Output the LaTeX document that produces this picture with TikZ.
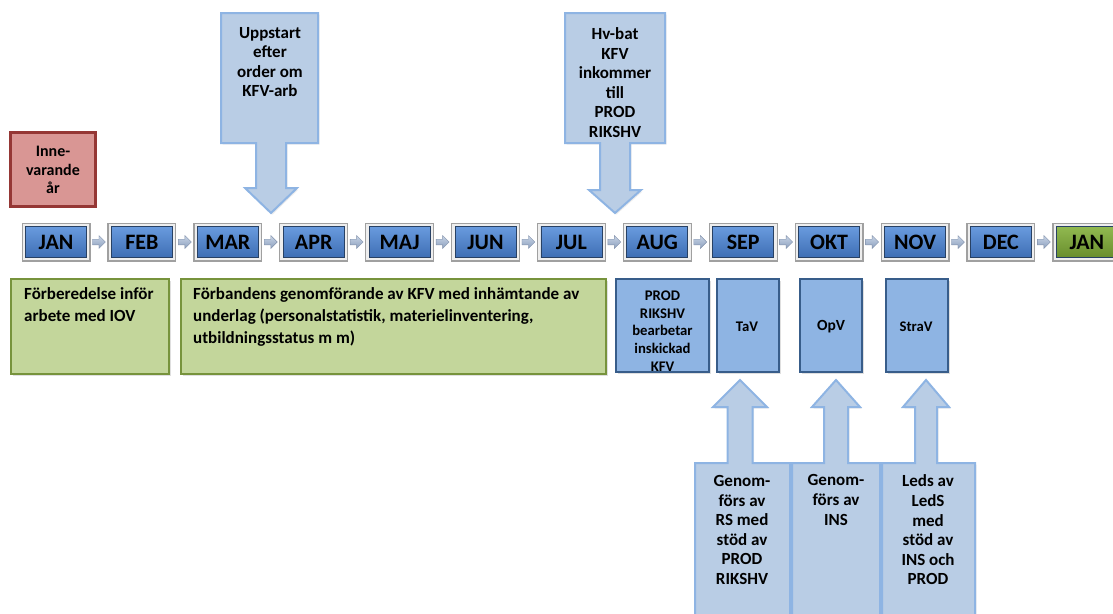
\documentclass[tikz,border=0pt]{standalone}
\usepackage{fontspec}
\setmainfont{Carlito}
\usetikzlibrary{calc,shadows}

\definecolor{monthtop}{RGB}{105,155,222}
\definecolor{monthbot}{RGB}{62,110,180}
\definecolor{monthline}{RGB}{40,65,100}
\definecolor{frameout}{RGB}{160,160,160}
\definecolor{framein}{RGB}{238,238,238}
\definecolor{greentop}{RGB}{145,185,80}
\definecolor{greenbot}{RGB}{105,142,45}
\definecolor{calloutfill}{RGB}{185,205,229}
\definecolor{calloutline}{RGB}{142,180,227}
\definecolor{notefill}{RGB}{195,214,155}
\definecolor{noteline}{RGB}{119,147,60}
\definecolor{stepfill}{RGB}{142,180,227}
\definecolor{stepline}{RGB}{56,93,138}
\definecolor{yearfill}{RGB}{217,150,148}
\definecolor{yearline}{RGB}{149,55,53}
\definecolor{linktop}{RGB}{200,212,230}
\definecolor{linkbot}{RGB}{140,160,190}
\definecolor{linkline}{RGB}{130,145,170}

\tikzset{
  monthbox/.style={rectangle, minimum width=61pt, minimum height=31pt, inner sep=0pt,
    drop shadow={opacity=0.25, shadow xshift=1pt, shadow yshift=-2pt},
    preaction={draw=frameout, line width=8pt},
    preaction={draw=framein, line width=5.6pt},
    top color=monthtop, bottom color=monthbot, draw=monthline, line width=0.8pt,
    font=\fontsize{22}{22}\selectfont\bfseries, text=black},
  nextmonth/.style={top color=greentop, bottom color=greenbot},
  link/.style={top color=linktop, bottom color=linkbot, draw=linkline, line width=0.4pt},
  callout/.style={fill=calloutfill, draw=calloutline, line width=2pt, line join=miter,
    drop shadow={opacity=0.15, shadow xshift=1.5pt, shadow yshift=-1.5pt}},
  notebox/.style={rectangle, fill=notefill, draw=noteline, line width=2.6pt, inner sep=0pt,
    drop shadow={opacity=0.25, shadow xshift=1.5pt, shadow yshift=-1.5pt}},
  stepbox/.style={rectangle, fill=stepfill, draw=stepline, line width=2.6pt, inner sep=0pt,
    drop shadow={opacity=0.25, shadow xshift=1.5pt, shadow yshift=-1.5pt}},
  yearbox/.style={rectangle, fill=yearfill, draw=yearline, line width=3pt, inner sep=0pt,
    drop shadow={opacity=0.25, shadow xshift=1.5pt, shadow yshift=-1.5pt}},
  boldtext/.style={inner sep=0pt, align=center, font=\fontsize{17}{19.6}\selectfont\bfseries},
  smalltext/.style={inner sep=0pt, align=center, font=\fontsize{14.7}{17.8}\selectfont\bfseries},
  plaintext/.style={inner sep=0pt, align=left, anchor=north west, font=\fontsize{17}{21.8}\selectfont\bfseries},
}

\begin{document}
\begin{tikzpicture}[x=1pt, y=-1pt]
\useasboundingbox (0,0) rectangle (1113,613);

% current year marker
\node[yearbox, minimum width=85pt, minimum height=74pt] (year) at (53,169.5) {};
\node[boldtext, font=\fontsize{16}{18.6}\selectfont\bfseries] (yeartext) at (53,170) {Inne-\\varande\\år};

% down callouts above the timeline
\path[callout] (221,13) -- (318,13) -- (318,143) -- (286,143) -- (286,188) -- (297,188)
  -- (271,213) -- (245,188) -- (256,188) -- (256,143) -- (221,143) -- cycle;
\node[boldtext] (start) at (270,62) {Uppstart\\efter\\order om\\KFV-arb};

\path[callout] (565,13) -- (665,13) -- (665,143) -- (630,143) -- (630,190) -- (641,190)
  -- (615,213) -- (589,190) -- (600,190) -- (600,143) -- (565,143) -- cycle;
\node[boldtext] (arrival) at (615,82.5) {Hv-bat\\KFV\\inkommer\\till\\PROD\\RIKSHV};

% timeline of months
\foreach \m [count=\i from 0] in {JAN,FEB,MAR,APR,MAJ,JUN,JUL,AUG,SEP,OKT,NOV,DEC}
  \node[monthbox] (m\i) at ({56+85.9*\i},242) {\m};
\node[monthbox, nextmonth] (m12) at ({56+85.9*12},242) {JAN};

\foreach \i [evaluate=\i as \j using int(\i+1)] in {0,...,11}
  \path[link] ($(m\i.east)!0.5!(m\j.west)$) ++(-6.5,-2.8) -- ++(6.5,0) -- ++(0,-3.7)
    -- ++(6.5,6.5) -- ++(-6.5,6.5) -- ++(0,-3.7) -- ++(-6.5,0) -- cycle;

% activity boxes below the timeline
\node[notebox, minimum width=158pt, minimum height=95pt] (prep) at (90,326.5) {};
\node[plaintext] (preptext) at (24,287.5) {Förberedelse inför\\arbete med IOV};

\node[notebox, minimum width=425pt, minimum height=95pt] (units) at (393.5,326.5) {};
\node[plaintext] (unitstext) at (193,287.5) {Förbandens genomförande av KFV med inhämtande av\\underlag (personalstatistik, materielinventering,\\utbildningsstatus m m)};

\node[stepbox, minimum width=93pt, minimum height=93pt] (proc) at (662.5,325.5) {};
\node[smalltext] (proctext) at (662.5,331) {PROD\\RIKSHV\\bearbetar\\inskickad\\KFV};

\node[stepbox, minimum width=62pt, minimum height=93pt] (tav) at (748,325.5) {};
\node[smalltext] (tavtext) at (747,327) {TaV};

\node[stepbox, minimum width=62pt, minimum height=93pt] (opv) at (831,325.5) {};
\node[boldtext, font=\fontsize{15.5}{15.5}\selectfont\bfseries] (opvtext) at (831,327) {OpV};

\node[stepbox, minimum width=62pt, minimum height=93pt] (strav) at (917,325.5) {};
\node[smalltext] (stravtext) at (916,327) {StraV};

% up callouts below the activity boxes
\path[callout] (695,625) -- (695,463) -- (727.5,463) -- (727.5,407) -- (713,407) -- (740,380)
  -- (767,407) -- (752.5,407) -- (752.5,463) -- (790,463) -- (790,625) -- cycle;
\node[boldtext] (rs) at (742,530) {Genom-\\förs av\\RS med\\stöd av\\PROD\\RIKSHV};

\path[callout] (792,625) -- (792,463) -- (824,463) -- (824,407) -- (812,407) -- (836,380)
  -- (860,407) -- (848,407) -- (848,463) -- (880,463) -- (880,625) -- cycle;
\node[boldtext] (ins) at (836,500) {Genom-\\förs av\\INS};

\path[callout] (882,625) -- (882,463) -- (915,463) -- (915,407) -- (903,407) -- (926,380)
  -- (949,407) -- (937,407) -- (937,463) -- (975,463) -- (975,625) -- cycle;
\node[boldtext] (leds) at (928,530) {Leds av\\LedS\\med\\stöd av\\INS och\\PROD};
\end{tikzpicture}
\end{document}
